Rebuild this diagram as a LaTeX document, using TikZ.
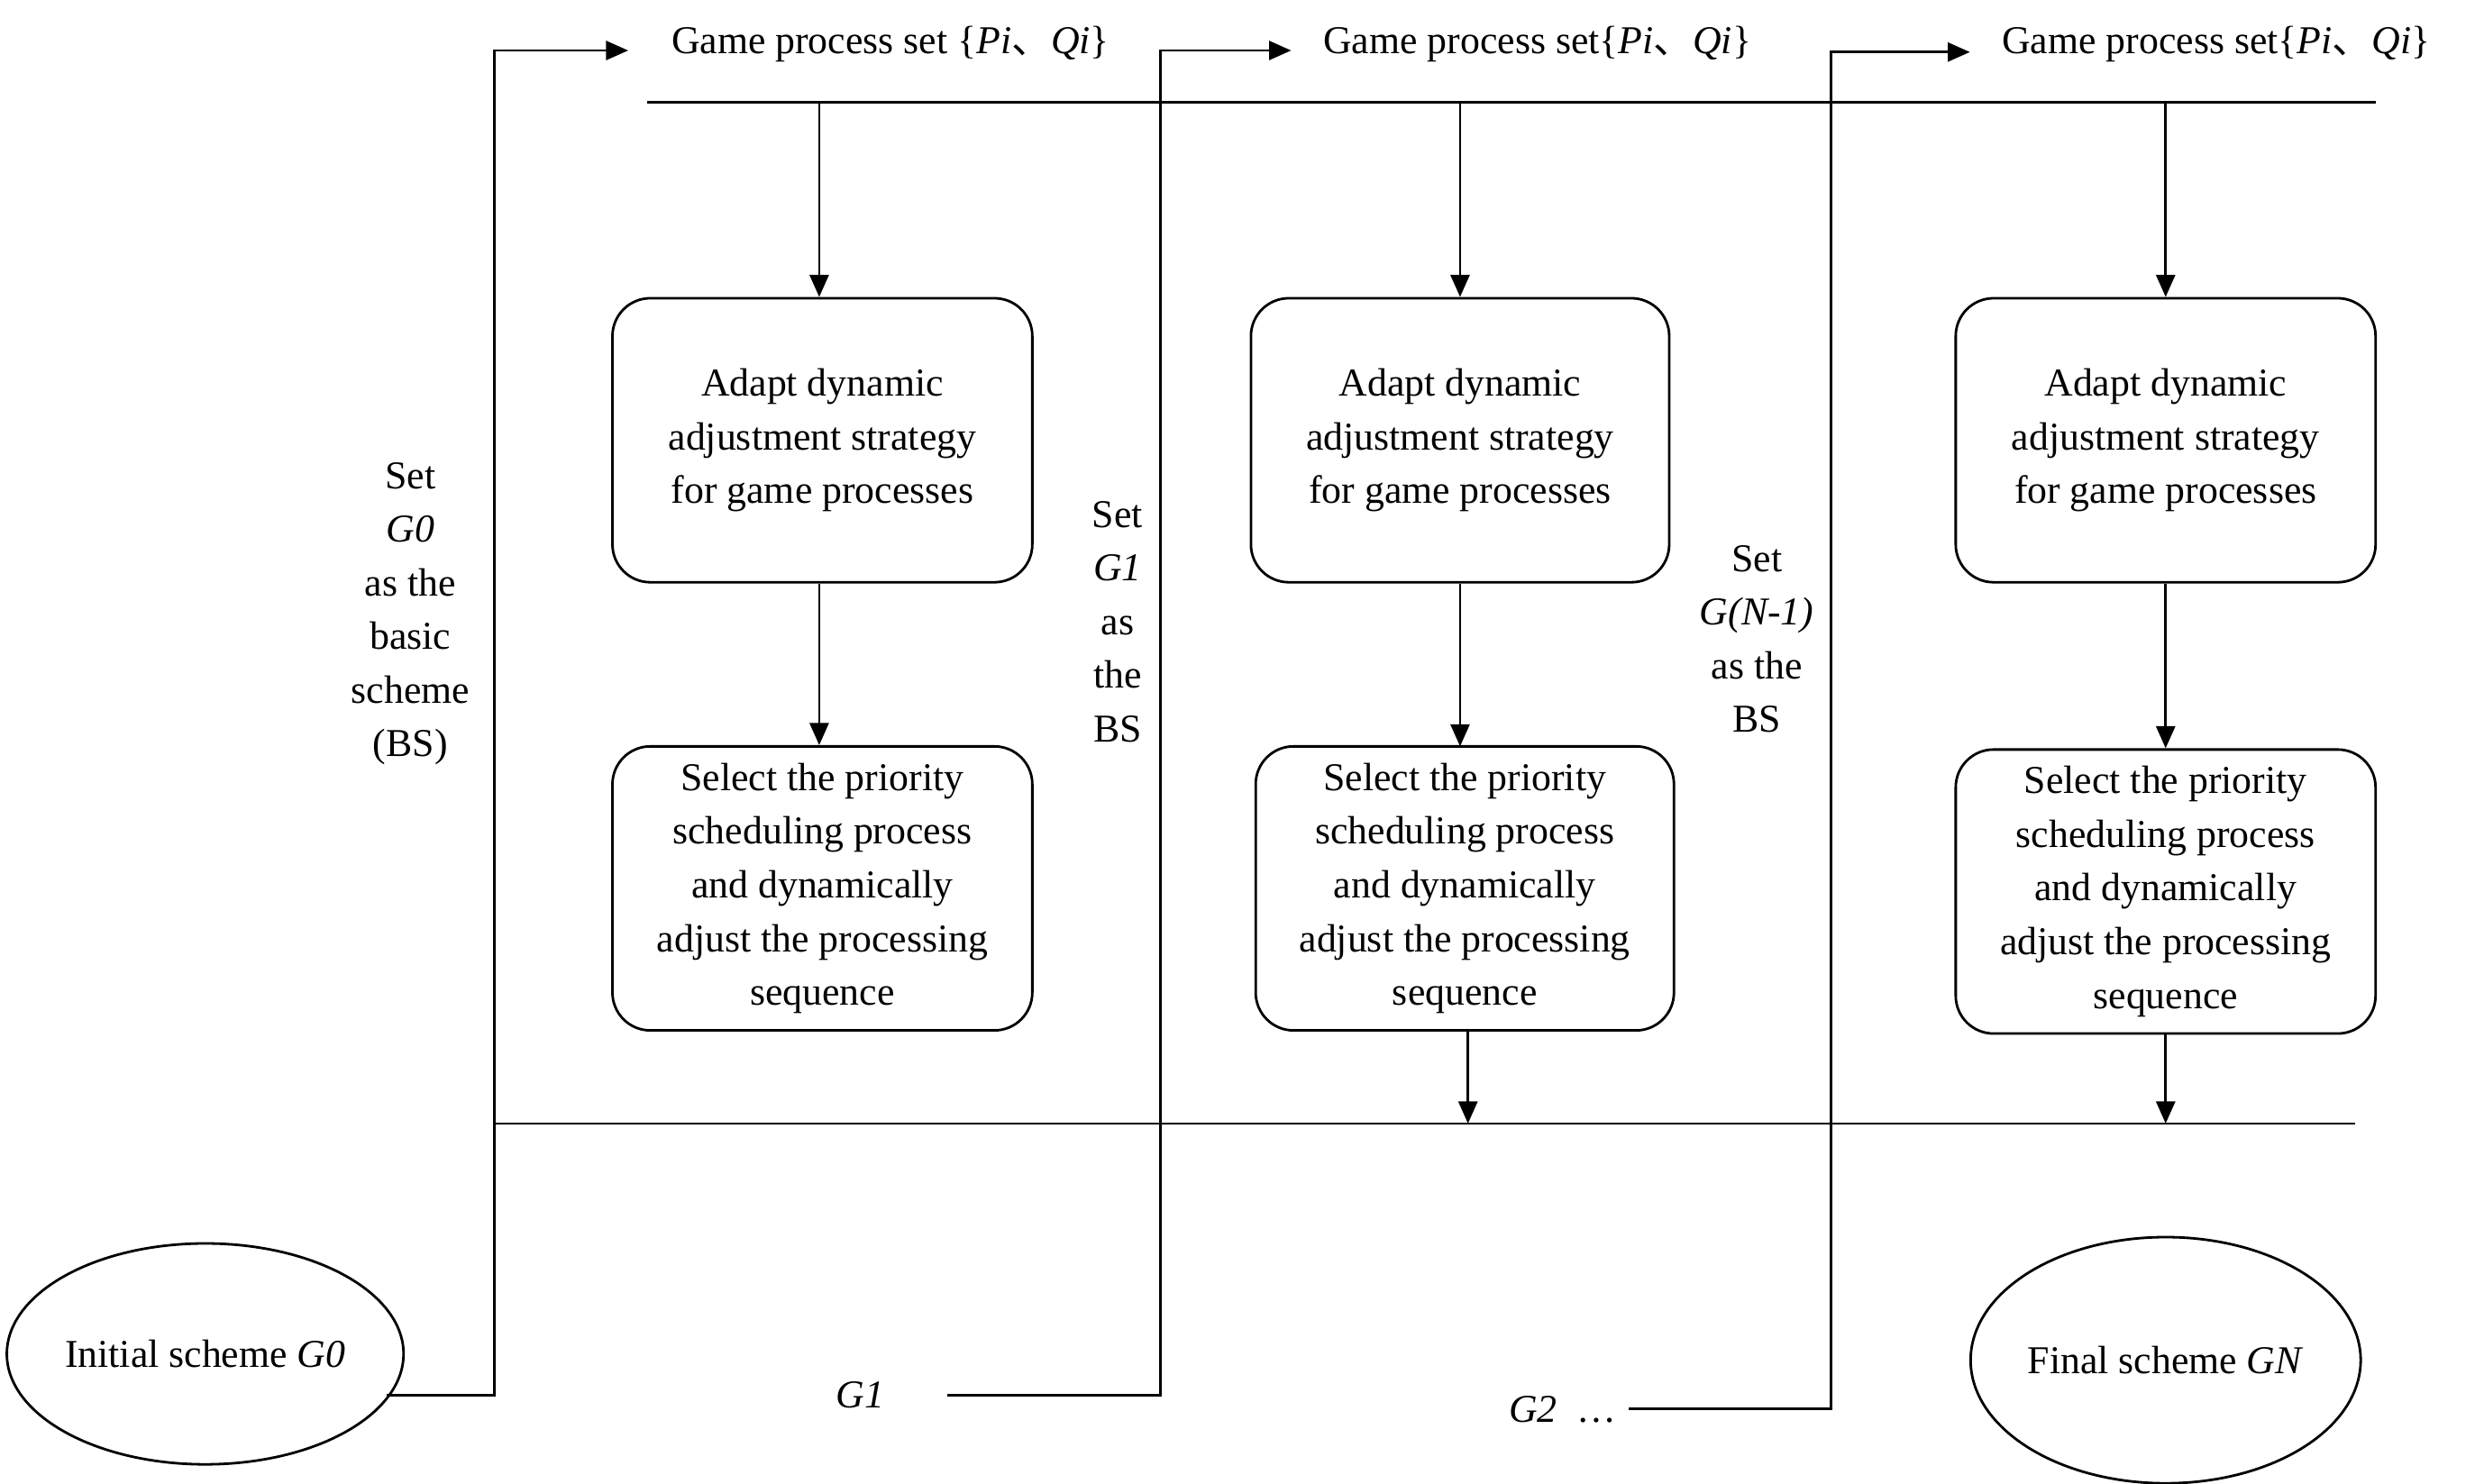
\documentclass[tikz,border=0pt]{standalone}
\usepackage{fontspec}
\setmainfont{Liberation Serif}
\newfontfamily\cjk{Noto Sans CJK SC}
\usetikzlibrary{arrows.meta,shapes.geometric}
\begin{document}
\begin{tikzpicture}[x=0.5pt,y=-0.5pt,font=\fontsize{12.5}{17}\selectfont,
 box/.style={draw,thick,rounded corners=12pt,align=center,inner sep=0pt},
 arr/.style={thick,-{Triangle[length=7pt,width=6pt]}},
 ln/.style={thick},
 lab/.style={align=center,inner sep=0pt}]
\useasboundingbox (0,0) rectangle (1568,940);
\node[box,minimum width=266*0.5pt,minimum height=180*0.5pt] (a1) at (521,279) {Adapt dynamic\\adjustment strategy\\for game processes};
\node[box,minimum width=266*0.5pt,minimum height=180*0.5pt] (b1) at (521,563) {Select the priority\\scheduling process\\and dynamically\\adjust the processing\\sequence};
\node[box,minimum width=265*0.5pt,minimum height=180*0.5pt] (a2) at (925,279) {Adapt dynamic\\adjustment strategy\\for game processes};
\node[box,minimum width=265*0.5pt,minimum height=180*0.5pt] (b2) at (928,563) {Select the priority\\scheduling process\\and dynamically\\adjust the processing\\sequence};
\node[box,minimum width=266*0.5pt,minimum height=180*0.5pt] (a3) at (1372,279) {Adapt dynamic\\adjustment strategy\\for game processes};
\node[box,minimum width=266*0.5pt,minimum height=180*0.5pt] (b3) at (1372,565) {Select the priority\\scheduling process\\and dynamically\\adjust the processing\\sequence};
\node[draw,thick,ellipse,minimum width=234*0.5pt,minimum height=140*0.5pt,inner sep=0pt] (e0) at (130,858) {Initial scheme \textit{G0}};
\node[draw,thick,ellipse,minimum width=214*0.5pt,minimum height=156*0.5pt,inner sep=0pt] (eN) at (1372,862) {Final scheme \textit{GN}};
\node[anchor=west,inner sep=0pt] (t1) at (425,28) {Game process set \{\textit{Pi}{\cjk 、}\textit{Qi}\}};
\node[anchor=west,inner sep=0pt] (t2) at (838,28) {Game process set\{\textit{Pi}{\cjk 、}\textit{Qi}\}};
\node[anchor=west,inner sep=0pt] (t3) at (1268,28) {Game process set\{\textit{Pi}{\cjk 、}\textit{Qi}\}};
\node[lab] (l1) at (260,389) {Set\\\textit{G0}\\as the\\basic\\scheme\\(BS)};
\node[lab] (l2) at (708,394) {Set\\\textit{G1}\\as\\the\\BS};
\node[lab] (l3) at (1113,405) {Set\\\textit{G(N-1)}\\as the\\BS};
\node[inner sep=0pt] (g1) at (545,884) {\textit{G1}};
\node[inner sep=0pt] (g2) at (990,893) {\textit{G2}\ \ \ldots};
\coordinate (tl) at (410,65); \coordinate (tr) at (1505,65);
\coordinate (bl) at (313,712); \coordinate (br) at (1492,712);
\draw[ln] (tl) -- (tr);
\draw[ln] (bl) -- (br);
\draw[arr] (245,884) -- (313,884) -- (313,32) -- (398,32);
\draw[arr] (600,884) -- (735,884) -- (735,32) -- (818,32);
\draw[arr] (1032,893) -- (1160,893) -- (1160,33) -- (1248,33);
\draw[arr] (519,65) -- (a1.north -| 519,0);
\draw[arr] (a1.south -| 519,0) -- (b1.north -| 519,0);
\draw[arr] (925,65) -- (a2.north);
\draw[arr] (a2.south) -- (925,473);
\draw[arr] (930,653) -- (930,712);
\draw[arr] (1372,65) -- (a3.north);
\draw[arr] (a3.south) -- (b3.north);
\draw[arr] (b3.south) -- (1372,712);
\end{tikzpicture}
\end{document}
